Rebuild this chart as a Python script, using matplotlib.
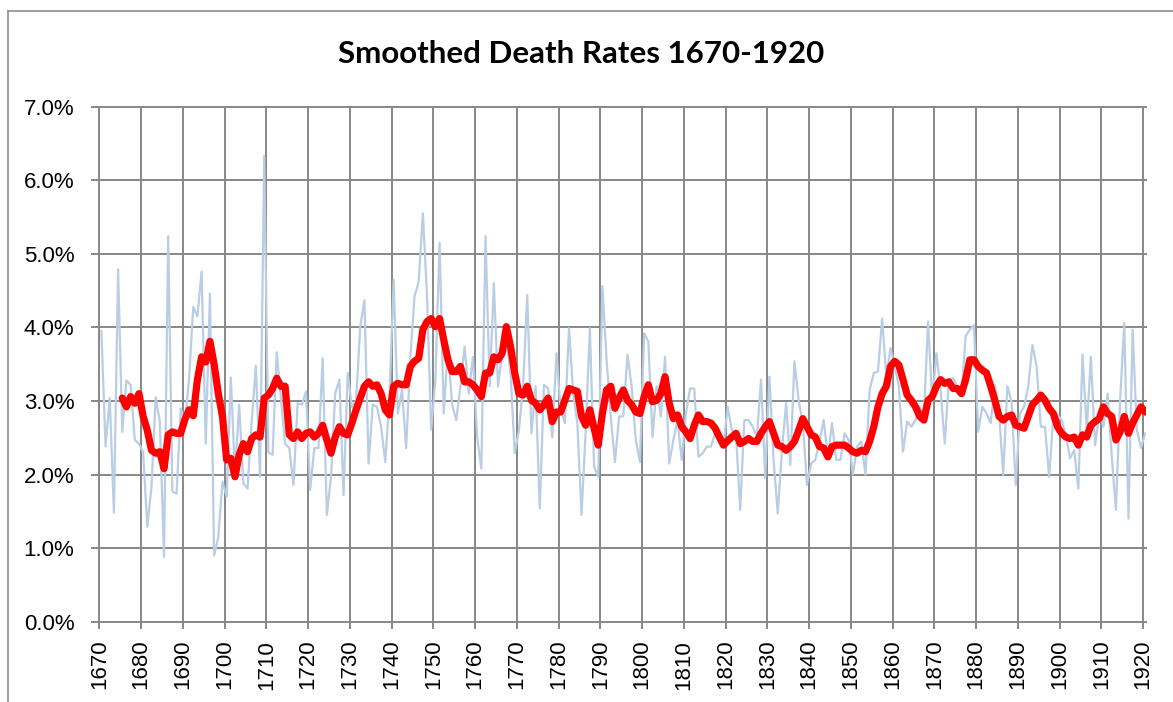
import matplotlib
matplotlib.use('Agg')
import matplotlib.pyplot as plt
from matplotlib.lines import Line2D
from matplotlib.ticker import FuncFormatter, MultipleLocator

# annual death rate (%), 1670-1920
years = list(range(1670, 1921))
rates = [
    3.95, 2.38, 3.04, 1.48, 4.79, 2.58, 3.28, 3.22, 2.47, 2.42,  # 1670s
    2.30, 1.29, 1.83, 3.05, 2.72, 0.88, 5.24, 1.77, 1.74, 2.90,  # 1680s
    2.70, 3.30, 4.28, 4.15, 4.76, 2.42, 4.46, 0.90, 1.15, 1.90,  # 1690s
    1.70, 3.32, 2.00, 2.95, 1.88, 1.81, 2.72, 3.48, 1.97, 6.33,  # 1700s
    2.30, 2.27, 3.66, 3.04, 2.42, 2.36, 1.86, 2.97, 2.95, 3.13,  # 1710s
    1.79, 2.36, 2.36, 3.58, 1.45, 1.97, 3.10, 3.29, 1.72, 3.38,  # 1720s
    2.92, 3.00, 4.01, 4.37, 2.15, 2.95, 2.92, 2.65, 2.17, 3.06,  # 1730s
    4.65, 2.83, 3.15, 2.36, 3.60, 4.42, 4.62, 5.55, 4.42, 2.61,  # 1740s
    3.29, 5.15, 2.83, 3.74, 2.95, 2.74, 3.20, 3.74, 3.10, 3.60,  # 1750s
    2.51, 2.08, 5.24, 3.20, 4.60, 3.20, 3.65, 3.83, 3.38, 2.29,  # 1760s
    2.60, 3.20, 4.44, 2.56, 3.20, 1.54, 3.22, 3.17, 2.51, 3.65,  # 1770s
    2.88, 2.70, 3.99, 3.10, 2.70, 1.45, 2.60, 3.99, 2.11, 1.97,  # 1780s
    4.56, 3.56, 2.79, 2.17, 2.79, 2.79, 3.63, 3.20, 2.47, 2.17,  # 1790s
    3.92, 3.81, 2.51, 3.20, 2.79, 3.60, 2.15, 2.47, 2.74, 2.20,  # 1800s
    2.83, 3.17, 3.17, 2.24, 2.29, 2.38, 2.38, 2.56, 2.47, 2.40,  # 1810s
    2.92, 2.60, 2.55, 1.52, 2.74, 2.74, 2.65, 2.51, 3.29, 1.95,  # 1820s
    3.33, 2.20, 1.47, 2.33, 2.97, 2.13, 3.54, 3.01, 2.70, 1.86,  # 1830s
    2.15, 2.20, 2.45, 2.74, 2.24, 2.70, 2.20, 2.20, 2.56, 2.47,  # 1840s
    2.00, 2.38, 2.45, 2.00, 3.15, 3.38, 3.40, 4.12, 3.33, 3.72,  # 1850s
    3.47, 3.20, 2.31, 2.72, 2.65, 2.74, 2.92, 2.79, 4.08, 3.00,  # 1860s
    3.65, 3.15, 2.42, 3.29, 3.31, 3.20, 3.10, 3.88, 3.97, 4.03,  # 1870s
    2.58, 2.92, 2.83, 2.70, 3.22, 2.85, 2.00, 3.20, 2.99, 1.86,  # 1880s
    2.83, 2.92, 3.20, 3.76, 3.47, 2.65, 2.65, 1.97, 2.79, 2.81,  # 1890s
    2.74, 2.54, 2.22, 2.33, 1.81, 3.63, 2.61, 3.60, 2.40, 2.83,  # 1900s
    2.65, 3.10, 2.24, 1.52, 3.01, 4.06, 1.40, 3.97, 2.61, 2.36,  # 1910s
    2.56,                                                        # 1920
]

# smoothed rate (%), 1675-1920
smooth_years = list(range(1675, 1921))
smoothed = [
    3.04, 2.92, 3.06, 2.97, 3.10,                                # 1675-79
    2.79, 2.60, 2.33, 2.29, 2.31, 2.08, 2.54, 2.58, 2.56, 2.56,  # 1680s
    2.75, 2.88, 2.80, 3.29, 3.60, 3.53, 3.81, 3.50, 3.10, 2.79,  # 1690s
    2.20, 2.22, 1.97, 2.27, 2.42, 2.31, 2.49, 2.54, 2.51, 3.04,  # 1700s
    3.08, 3.17, 3.31, 3.20, 3.20, 2.54, 2.49, 2.58, 2.49, 2.56,  # 1710s
    2.58, 2.51, 2.56, 2.67, 2.47, 2.29, 2.51, 2.65, 2.56, 2.54,  # 1720s
    2.70, 2.88, 3.04, 3.20, 3.26, 3.20, 3.22, 3.10, 2.88, 2.81,  # 1730s
    3.20, 3.24, 3.22, 3.22, 3.47, 3.54, 3.58, 3.97, 4.08, 4.12,  # 1740s
    4.01, 4.12, 3.83, 3.56, 3.40, 3.40, 3.47, 3.26, 3.26, 3.22,  # 1750s
    3.15, 3.06, 3.38, 3.38, 3.60, 3.56, 3.65, 4.01, 3.74, 3.38,  # 1760s
    3.10, 3.08, 3.20, 3.01, 2.97, 2.88, 2.95, 3.04, 2.72, 2.85,  # 1770s
    2.85, 3.01, 3.17, 3.15, 3.13, 2.79, 2.67, 2.88, 2.63, 2.40,  # 1780s
    2.83, 3.15, 3.20, 2.90, 3.04, 3.15, 3.01, 2.95, 2.85, 2.83,  # 1790s
    3.06, 3.22, 2.99, 3.01, 3.10, 3.33, 2.97, 2.76, 2.81, 2.65,  # 1800s
    2.58, 2.49, 2.67, 2.81, 2.72, 2.72, 2.70, 2.63, 2.51, 2.40,  # 1810s
    2.46, 2.51, 2.56, 2.42, 2.45, 2.49, 2.45, 2.45, 2.56, 2.65,  # 1820s
    2.72, 2.56, 2.40, 2.38, 2.33, 2.38, 2.45, 2.60, 2.76, 2.65,  # 1830s
    2.54, 2.51, 2.38, 2.36, 2.24, 2.38, 2.40, 2.40, 2.40, 2.36,  # 1840s
    2.31, 2.29, 2.33, 2.31, 2.45, 2.65, 2.92, 3.10, 3.20, 3.47,  # 1850s
    3.54, 3.49, 3.29, 3.08, 3.01, 2.92, 2.79, 2.74, 3.01, 3.06,  # 1860s
    3.20, 3.29, 3.24, 3.26, 3.17, 3.17, 3.10, 3.29, 3.56, 3.56,  # 1870s
    3.47, 3.42, 3.38, 3.20, 3.01, 2.79, 2.74, 2.79, 2.81, 2.67,  # 1880s
    2.65, 2.63, 2.79, 2.95, 3.01, 3.08, 3.01, 2.90, 2.83, 2.65,  # 1890s
    2.56, 2.51, 2.49, 2.51, 2.40, 2.54, 2.51, 2.67, 2.72, 2.76,  # 1900s
    2.92, 2.83, 2.79, 2.47, 2.58, 2.79, 2.56, 2.70, 2.81, 2.92,  # 1910s
    2.85,                                                        # 1920
]

grid_col = '#878787'

fig = plt.figure(figsize=(11.73, 7.02), dpi=100)
ax = fig.add_axes([99.3 / 1173, 1 - 621.7 / 702, (1146 - 99.3) / 1173, (621.7 - 106.7) / 702])

# excel puts the points in the middle of each category
ax.plot([y + 0.5 for y in years], rates, color='#b9cde5', lw=1.6, zorder=2)
ax.plot([y + 0.5 for y in smooth_years], smoothed, color='#ff0000', lw=5.2,
        solid_joinstyle='round', solid_capstyle='round', zorder=3)

ax.set_xlim(1670, 1920.7)
ax.set_ylim(0, 7)
ax.xaxis.set_major_locator(MultipleLocator(10))
ax.yaxis.set_major_locator(MultipleLocator(1))
ax.yaxis.set_major_formatter(FuncFormatter(lambda v, p: '%.1f%%' % v))

ax.grid(True, color=grid_col, lw=1.4)
for gl in ax.get_xgridlines() + ax.get_ygridlines():
    gl.set_clip_on(False)
ax.set_axisbelow(True)
for s in ax.spines.values():
    s.set_visible(False)

ax.tick_params(axis='y', length=6, width=1.4, color=grid_col, pad=12,
               labelsize=16, labelcolor='black')
ax.tick_params(axis='x', length=5, width=1.4, color=grid_col, pad=8,
               labelsize=16, labelcolor='black', labelrotation=90)
for lab in ax.get_xticklabels() + ax.get_yticklabels():
    lab.set_family('Liberation Sans')

fig.text(581 / 1173, 1 - 54 / 702, 'Smoothed Death Rates 1670-1920', ha='center', va='center',
         fontsize=22.5, fontweight='bold', family='Lato')

# chart frame (only left and top edges are in view)
fig.add_artist(Line2D([8 / 1173, 8 / 1173], [0, 1 - 11 / 702], transform=fig.transFigure,
                      color='#8c8c8c', lw=1.2))
fig.add_artist(Line2D([8 / 1173, 1], [1 - 11 / 702, 1 - 11 / 702], transform=fig.transFigure,
                      color='#8c8c8c', lw=1.2))

fig.savefig('out.png', dpi=100)
